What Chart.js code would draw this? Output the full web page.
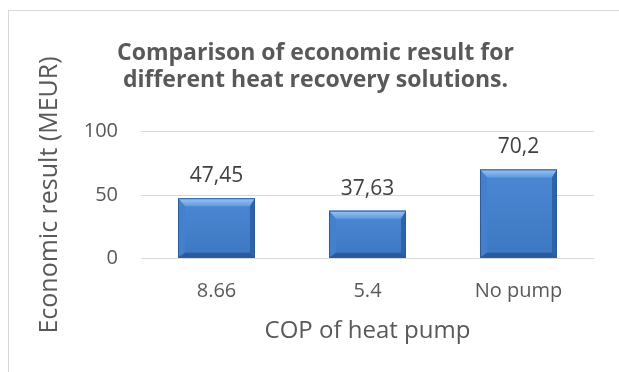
<!DOCTYPE html>
<html>
<head>
<meta charset="utf-8">
<script src="https://cdn.jsdelivr.net/npm/chart.js@4/dist/chart.umd.min.js"></script>
<style>
  html, body { margin: 0; padding: 0; background: #ffffff; }
  #wrap { width: 619px; height: 372px; position: relative; }
</style>
</head>
<body>
<div id="wrap"><canvas id="c" width="619" height="372"></canvas></div>
<script>
// Economic result per heat recovery option
const categories = ['8.66', '5.4', 'No pump'];
const economicResult = [47.45, 37.63, 70.2];
const yTicks = [0, 50, 100];

const TEXT = '#595959';
const FONT = "'Open Sans', 'Noto Sans', sans-serif";

// white card with a light grey frame behind everything
const framePlugin = {
  id: 'frame',
  beforeDraw(chart) {
    const ctx = chart.ctx;
    ctx.save();
    ctx.fillStyle = '#ffffff';
    ctx.fillRect(0, 0, chart.width, chart.height);
    ctx.strokeStyle = '#d9d9d9';
    ctx.lineWidth = 1;
    ctx.strokeRect(8.5, 10.5, chart.width + 20, chart.height + 20);
    ctx.restore();
  }
};

// bevelled look on each bar, drawn over the bar elements
const bevelPlugin = {
  id: 'bevel',
  afterDatasetsDraw(chart) {
    const ctx = chart.ctx;
    const meta = chart.getDatasetMeta(0);
    meta.data.forEach(bar => {
      const p = bar.getProps(['x', 'y', 'base', 'width'], true);
      const l = p.x - p.width / 2, r = p.x + p.width / 2;
      const t = p.y, b = p.base;
      const bt = 8, bl = 7, br = 5, bb = 5;
      ctx.save();
      // face
      const g = ctx.createLinearGradient(0, t, 0, b);
      g.addColorStop(0, '#4b88d3');
      g.addColorStop(1, '#3d77c2');
      ctx.fillStyle = g;
      ctx.fillRect(l, t, r - l, b - t);
      // top bevel
      const gt = ctx.createLinearGradient(0, t, 0, t + bt);
      gt.addColorStop(0, '#9cc6f2');
      gt.addColorStop(1, '#5f9ae0');
      ctx.fillStyle = gt;
      ctx.beginPath();
      ctx.moveTo(l, t); ctx.lineTo(r, t); ctx.lineTo(r - br, t + bt); ctx.lineTo(l + bl, t + bt);
      ctx.closePath(); ctx.fill();
      // left bevel
      ctx.fillStyle = '#4580cc';
      ctx.beginPath();
      ctx.moveTo(l, t); ctx.lineTo(l + bl, t + bt); ctx.lineTo(l + bl, b - bb); ctx.lineTo(l, b);
      ctx.closePath(); ctx.fill();
      // right bevel
      ctx.fillStyle = '#2f63a8';
      ctx.beginPath();
      ctx.moveTo(r, t); ctx.lineTo(r - br, t + bt); ctx.lineTo(r - br, b - bb); ctx.lineTo(r, b);
      ctx.closePath(); ctx.fill();
      // bottom bevel
      ctx.fillStyle = '#2b5b9c';
      ctx.beginPath();
      ctx.moveTo(l, b); ctx.lineTo(l + bl, b - bb); ctx.lineTo(r - br, b - bb); ctx.lineTo(r, b);
      ctx.closePath(); ctx.fill();
      // outline
      ctx.strokeStyle = '#2d5c9a';
      ctx.lineWidth = 1;
      ctx.strokeRect(l + 0.5, t + 0.5, r - l - 1, b - t - 1);
      ctx.restore();
    });
  }
};

// value labels above the bars, decimal comma
const valueLabelPlugin = {
  id: 'valueLabels',
  afterDatasetsDraw(chart) {
    const ctx = chart.ctx;
    const meta = chart.getDatasetMeta(0);
    const values = chart.data.datasets[0].data;
    ctx.save();
    ctx.font = '21px ' + FONT;
    ctx.fillStyle = '#404040';
    ctx.textAlign = 'center';
    ctx.textBaseline = 'middle';
    meta.data.forEach((bar, i) => {
      const txt = String(values[i]).replace('.', ',');
      ctx.fillText(txt, bar.x, bar.y - 22);
    });
    ctx.restore();
  }
};

new Chart(document.getElementById('c'), {
  type: 'bar',
  data: {
    labels: categories,
    datasets: [{
      data: economicResult,
      backgroundColor: '#4180cb',
      borderWidth: 0,
      barPercentage: 0.51,
      categoryPercentage: 1.0
    }]
  },
  options: {
    responsive: false,
    animation: false,
    devicePixelRatio: 1,
    layout: { padding: { left: 37, right: 25, top: 0, bottom: 0 } },
    plugins: {
      legend: { display: false },
      tooltip: { enabled: false },
      title: {
        display: true,
        text: ['Comparison of economic result for', 'different heat recovery solutions.'],
        color: TEXT,
        font: { family: FONT, size: 23, weight: 'bold', lineHeight: 1.2 },
        padding: { top: 39.2, bottom: 37.3 }
      }
    },
    scales: {
      x: {
        grid: { display: false, drawTicks: false },
        border: { display: false },
        ticks: { color: TEXT, font: { family: FONT, size: 20, lineHeight: 1.2 }, padding: 20.7 },
        title: {
          display: true,
          text: 'COP of heat pump',
          color: TEXT,
          font: { family: FONT, size: 24, lineHeight: 1.2 },
          padding: { top: 0, bottom: 26 }
        },
        afterFit(scale) { scale.height = 372 - 258.3; }
      },
      y: {
        min: 0,
        max: 100,
        afterBuildTicks(scale) { scale.ticks = yTicks.map(v => ({ value: v })); },
        grid: { color: '#d9d9d9', lineWidth: 1, drawTicks: false },
        border: { display: false },
        ticks: { color: TEXT, font: { family: FONT, size: 20 }, padding: 23 },
        title: {
          display: true,
          text: 'Economic result (MEUR)',
          color: TEXT,
          font: { family: FONT, size: 25, lineHeight: 1.0 },
          padding: { top: 0, bottom: 0 }
        },
        afterFit(scale) { scale.width = 104; }
      }
    }
  },
  plugins: [framePlugin, bevelPlugin, valueLabelPlugin]
});
</script>
</body>
</html>
